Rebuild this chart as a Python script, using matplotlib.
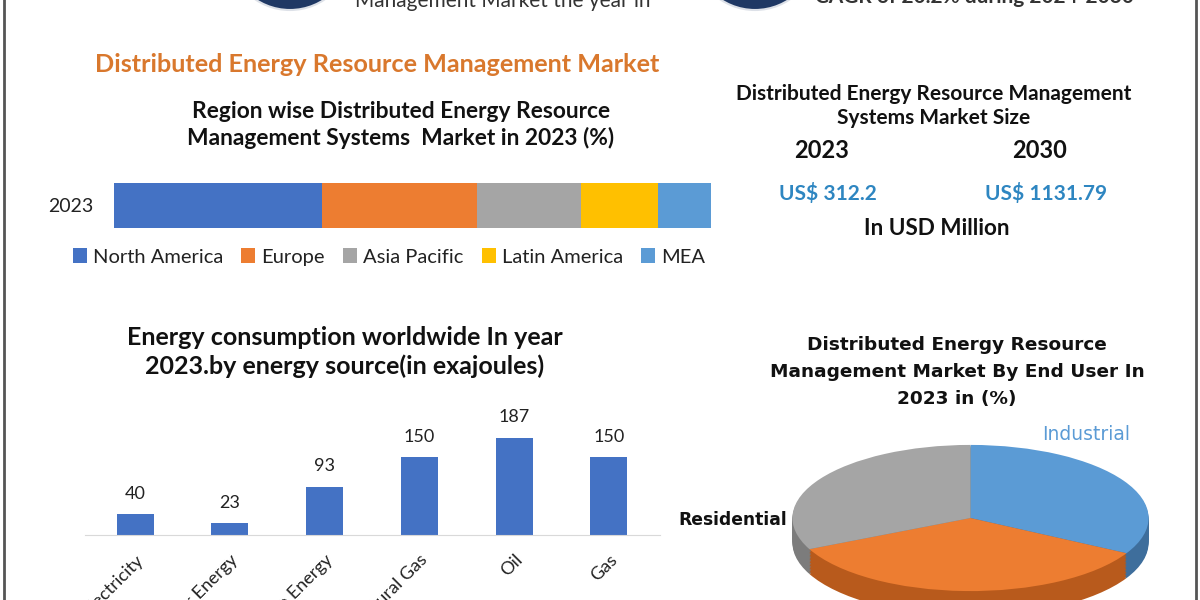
import numpy as np
import matplotlib as mpl
mpl.use('Agg')
import matplotlib.pyplot as plt
from matplotlib.patches import Ellipse
from matplotlib.lines import Line2D

######################
## data
######################

regions = ['North America', 'Europe', 'Asia Pacific', 'Latin America', 'MEA']
region_share = [34.8, 26.0, 17.4, 12.9, 8.9]
region_colors = ['#4472C4', '#ED7D31', '#A5A5A5', '#FFC000', '#5B9BD5']

sources = ['Electricity', 'Nuclear Energy', 'Renewable Energy', 'Natural Gas', 'Oil', 'Gas']
consumption = [40, 23, 93, 150, 187, 150]

end_users = ['Industrial', 'Commercial', 'Residential']
end_user_share = [33, 35, 32]
end_user_colors = ['#5B9BD5', '#ED7D31', '#A5A5A5']
end_user_side = ['#3E6E9C', '#B85A1C', '#7C7C7C']

size_years = ['2023', '2030']
size_values = ['US$ 312.2', 'US$ 1131.79']

######################
## helpers (pixel -> figure coords)
######################

W, H = 1200, 600
def fx(px): return px / W
def fy(py): return 1 - py / H

CAL = ['Lato', 'DejaVu Sans']
VER = ['DejaVu Sans']

fig = plt.figure(figsize=(12, 6), dpi=100)
fig.patch.set_facecolor('white')

## frame lines
for x in (4, 1196):
    fig.add_artist(Line2D([fx(x), fx(x)], [0, 1], color='#555555', lw=2))

## cut-off header
for cx in (290, 755):
    r = 62
    fig.add_artist(Ellipse((fx(cx), fy(-52)), 2 * r / W, 2 * r / H, transform=fig.transFigure,
                           facecolor='#1F3864', edgecolor='#dde1e8', lw=1.5))
fig.text(fx(355), fy(1), 'Management Market the year in', ha='left', va='center',
         fontsize=15, family=CAL, color='#333333')
fig.text(fx(815), fy(-3), 'CAGR of 20.2% during 2024-2030', ha='left', va='center',
         fontsize=15, family=CAL, color='#333333', fontweight='bold')

## headings
fig.text(fx(377), fy(65), 'Distributed Energy Resource Management Market', ha='center', va='center',
         fontsize=18.2, family=CAL, fontweight='bold', color='#D9782D')
fig.text(fx(401), fy(125), 'Region wise Distributed Energy Resource\nManagement Systems  Market in 2023 (%)',
         ha='center', va='center', fontsize=16.4, family=CAL, fontweight='bold', color='#111111',
         linespacing=1.3)

######################
## stacked bar
######################

ax1 = fig.add_axes([fx(114), fy(228), fx(711) - fx(114), 45 / H])
left = 0
handles = []
for name, val, col in zip(regions, region_share, region_colors):
    b = ax1.barh([0], [val], left=left, height=1.0, color=col, label=name)
    handles.append(b)
    left += val
ax1.set_xlim(0, sum(region_share))
ax1.set_ylim(-0.5, 0.5)
for s in ax1.spines.values():
    s.set_visible(False)
ax1.set_xticks([])
ax1.set_yticks([0])
ax1.set_yticklabels(['2023'], fontsize=14, family=CAL, color='#222222')
ax1.tick_params(axis='y', length=0, pad=15)

fig.legend(handles, regions, loc='center', bbox_to_anchor=(fx(389), fy(257)), ncol=5,
           frameon=False, handlelength=0.7, handleheight=0.7, columnspacing=0.9,
           handletextpad=0.3, prop={'family': CAL, 'size': 14.5}, labelcolor='#222222')

######################
## market size block
######################

fig.text(fx(934), fy(106), 'Distributed Energy Resource Management\nSystems Market Size',
         ha='center', va='center', fontsize=15, family=CAL, fontweight='bold', color='#111111',
         linespacing=1.3)
for xc, yr, val in zip((822, 1040), size_years, size_values):
    fig.text(fx(xc), fy(150), yr, ha='center', va='center', fontsize=17, family=CAL,
             fontweight='bold', color='#111111')
    fig.text(fx(xc + 6), fy(194), val, ha='center', va='center', fontsize=15, family=CAL,
             fontweight='bold', color='#2E86C1')
fig.text(fx(937), fy(229), 'In USD Million', ha='center', va='center', fontsize=16.2, family=CAL,
         fontweight='bold', color='#111111')

######################
## energy consumption bars
######################

fig.text(fx(345), fy(352), 'Energy consumption worldwide In year\n2023.by energy source(in exajoules)',
         ha='center', va='center', fontsize=18, family=CAL, fontweight='bold', color='#111111',
         linespacing=1.3)

ax2 = fig.add_axes([fx(85), fy(535), fx(660) - fx(85), 104 / H])
x = np.arange(len(sources))
bars = ax2.bar(x, consumption, width=0.39, color='#4472C4')
ax2.bar_label(bars, padding=9, fontsize=13, family=CAL, color='#222222')
ax2.set_xlim(-0.53, 5.54)
ax2.set_ylim(0, 200)
for k in ('top', 'right', 'left'):
    ax2.spines[k].set_visible(False)
ax2.spines['bottom'].set_color('#D9D9D9')
ax2.set_yticks([])
ax2.set_xticks(x)
ax2.set_xticklabels(sources, rotation=45, ha='right', rotation_mode='anchor',
                    fontsize=13, family=CAL, color='#222222')
ax2.tick_params(axis='x', length=0, pad=12)

######################
## end user pie
######################

fig.text(fx(957), fy(372), 'Distributed Energy Resource\nManagement Market By End User In\n2023 in (%)',
         ha='center', va='center', fontsize=13.3, family=VER, fontweight='bold', color='#111111',
         linespacing=1.65)

ax3 = fig.add_axes([fx(739), fy(613), 463 / W, 190 / H])
depth = 0.34
for d in np.linspace(-depth, 0, 18)[:-1]:
    ax3.pie(end_user_share, colors=end_user_side, startangle=90, counterclock=False,
            center=(0, d), radius=1.0, wedgeprops={'linewidth': 0})
ax3.pie(end_user_share, colors=end_user_colors, startangle=90, counterclock=False,
        center=(0, 0), radius=1.0, wedgeprops={'linewidth': 0})
ax3.set_aspect('auto')
ax3.set_xlim(-1.3, 1.3)
ax3.set_ylim(-1.3, 1.3)
ax3.axis('off')

fig.text(fx(1086), fy(435), 'Industrial', ha='center', va='center', fontsize=13.5, family=VER,
         color='#5B9BD5')
fig.text(fx(733), fy(520), 'Residential', ha='center', va='center', fontsize=12.3, family=VER,
         fontweight='bold', color='#111111')

fig.savefig('out.png', dpi=100)
